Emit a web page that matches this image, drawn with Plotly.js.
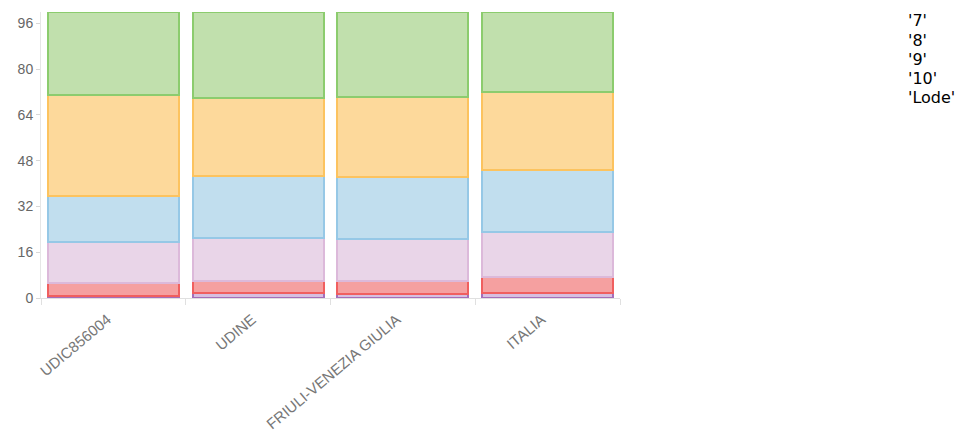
<!DOCTYPE html>
<html>
<head>
<meta charset="utf-8">
<script src="https://cdn.plot.ly/plotly-3.0.1.min.js"></script>
<style>
  html, body { margin: 0; padding: 0; background: #fff; }
  #chart { width: 967px; height: 434px; }
</style>
</head>
<body>
<div id="chart"></div>
<script>
const categories = ['UDIC856004', 'UDINE', 'FRIULI-VENEZIA GIULIA', 'ITALIA'];
const seriesNames = ['6', '7', '8', '9', '10', 'Lode'];
const v6    = [0.6, 1.7, 1.5, 1.9];
const v7    = [4.8, 4.3, 4.3, 5.4];
const v8    = [14.1, 15.1, 14.7, 15.8];
const v9    = [16.2, 21.5, 21.9, 21.5];
const v10   = [35.3, 27.3, 27.9, 27.3];
const vLode = [29.0, 30.1, 29.7, 28.1];
const legendLabels = ["'7'", "'8'", "'9'", "'10'", "'Lode'"];
const yTicks = [0, 16, 32, 48, 64, 80, 96];

const values = [v6, v7, v8, v9, v10, vLode];
const fills = ['rgba(200,170,215,0.75)', 'rgba(245,160,160,1)', 'rgba(233,213,232,1)',
               'rgba(193,222,238,1)', 'rgba(253,217,155,1)', 'rgba(193,224,173,1)'];
const lines = ['rgb(165,110,185)', 'rgb(240,95,95)', 'rgb(220,185,218)',
               'rgb(150,200,230)', 'rgb(252,195,95)', 'rgb(140,204,110)'];

const traces = values.map((vals, i) => ({
  type: 'bar',
  name: seriesNames[i],
  x: categories,
  y: vals,
  marker: { color: fills[i], line: { color: lines[i], width: 2 } },
  showlegend: false,
  hoverinfo: 'x+y+name'
}));

const annotations = legendLabels.map((t, i) => ({
  xref: 'paper', yref: 'paper',
  x: (906 - 41) / 579, y: 1 - (21 + i * 19.2 - 12) / 286,
  xanchor: 'left', yanchor: 'middle',
  text: t, showarrow: false,
  font: { family: 'DejaVu Sans, Verdana, sans-serif', size: 16, color: '#000' }
}));

const layout = {
  width: 967, height: 434,
  margin: { l: 41, r: 347, t: 12, b: 136 },
  barmode: 'stack',
  bargap: 0.095,
  paper_bgcolor: '#fff', plot_bgcolor: '#fff',
  showlegend: false,
  xaxis: {
    type: 'category',
    tickangle: -40,
    tickson: 'boundaries',
    ticks: 'outside', ticklen: 6, tickcolor: '#e0e0e0',
    ticklabelstandoff: 6,
    ticklabelshift: -6,
    showline: true, linecolor: '#e0e0e0', linewidth: 1,
    showgrid: false,
    tickfont: { family: 'Liberation Sans, Arial, sans-serif', size: 15, color: '#777' }
  },
  yaxis: {
    range: [0, 100],
    tickvals: yTicks,
    ticktext: yTicks.map(String),
    ticks: 'outside', ticklen: 4, tickcolor: '#d8d8d8',
    showline: true, linecolor: '#e6e6e6', linewidth: 1,
    showgrid: false, zeroline: false,
    tickfont: { family: 'Liberation Sans, Arial, sans-serif', size: 14, color: '#666' }
  },
  annotations: annotations
};

Plotly.newPlot('chart', traces, layout, { displayModeBar: false, staticPlot: true });
</script>
</body>
</html>
